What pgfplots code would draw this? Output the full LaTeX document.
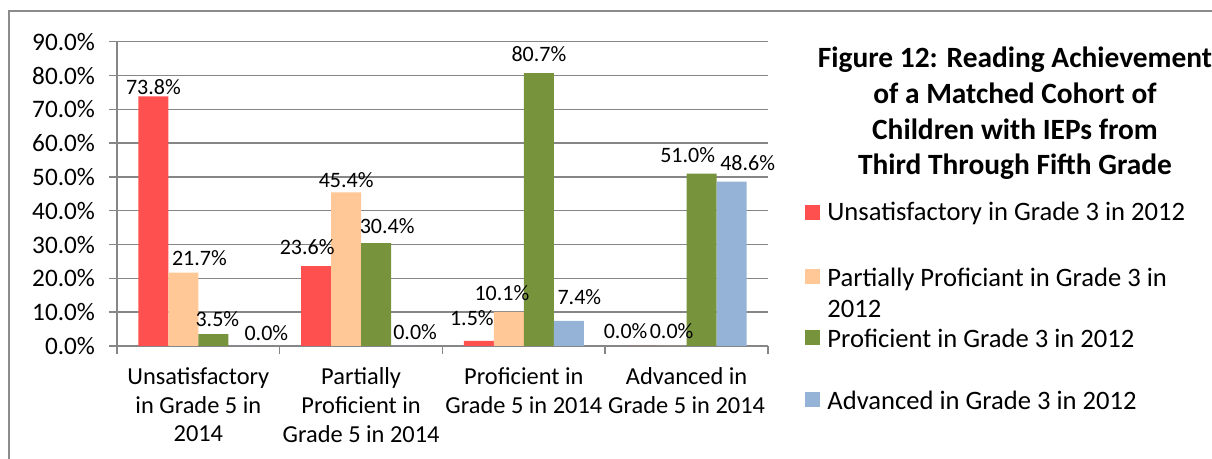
\documentclass[border=0pt]{standalone}
\usepackage{pgfplots}
\usepackage{pgfplotstable}
\pgfplotsset{compat=1.18}
\usepackage{fontspec}
\setmainfont{Carlito}
\definecolor{cRed}{HTML}{FF5050}
\definecolor{cOrange}{HTML}{FFC896}
\definecolor{cGreen}{HTML}{77933C}
\definecolor{cBlue}{HTML}{95B3D7}
\definecolor{cGrid}{HTML}{868686}
\definecolor{cFrame}{HTML}{8C8C8C}
\newcommand{\fx}{\fontsize{12.2}{14.25}\selectfont}
\newcommand{\fy}{\fontsize{12.6}{14}\selectfont}
\newcommand{\fd}{\fontsize{11}{13}\selectfont}
\newcommand{\fl}{\fontsize{13.3}{15.5}\selectfont}

\pgfplotstableread{
x y dx dy
0 73.8 0 4.75
1 23.6 -4.5 9.65
2 1.5 -3.5 11.5
3 0.0 -8 7.5
}\tRed
\pgfplotstableread{
x y dx dy
0 21.7 8 7.3
1 45.4 0 6.25
2 10.1 -3.5 9.5
3 0.0 0 7.5
}\tOrange
\pgfplotstableread{
x y dx dy
0 3.5 2 7.5
1 30.4 5.5 8.5
2 80.7 0 9.35
3 51.0 -7 9.3
}\tGreen
\pgfplotstableread{
x y dx dy
0 0.0 11.5 6.65
1 0.0 4.5 7.15
2 7.4 5.25 12
3 48.6 8 9.3
}\tBlue

\begin{document}
\begin{tikzpicture}
\useasboundingbox (0,0) rectangle (606pt,229.5pt);
\draw[cFrame, line width=0.6pt] (4.5pt,-2pt) -- (4.5pt,224pt) -- (612pt,224pt);
\begin{axis}[
  at={(58.5pt,56.5pt)}, anchor=south west,
  scale only axis, width=325.5pt, height=152.15pt,
  xmin=-0.5, xmax=3.5, ymin=0, ymax=90,
  ybar=0pt, bar width=15pt,
  axis x line*=bottom, axis y line*=left,
  axis line style={cGrid, line width=0.75pt},
  ymajorgrids, grid style={cGrid, line width=0.75pt},
  tick align=outside, major tick length=4pt,
  tick style={cGrid, line width=0.75pt},
  xtick={-0.5,0.5,1.5,2.5,3.5}, xticklabels={},
  extra x ticks={0,1,2,3},
  extra x tick labels={Unsatisfactory\\in Grade 5 in\\2014, Partially\\Proficient in\\Grade 5 in 2014, Proficient in\\Grade 5 in 2014, Advanced in\\Grade 5 in 2014},
  extra x tick style={major tick length=0pt},
  xticklabel style={font=\fx, align=center, text=black, yshift=-7.5pt},
  ytick={0,10,20,30,40,50,60,70,80,90},
  yticklabels={0.0\%,10.0\%,20.0\%,30.0\%,40.0\%,50.0\%,60.0\%,70.0\%,80.0\%,90.0\%},
  yticklabel style={font=\fy, text=black, xshift=-3.5pt},
  /pgf/number format/assume math mode=true,
  nodes near coords={\pgfmathprintnumber[fixed,fixed zerofill,precision=1]{\pgfplotspointmeta}\%},
  visualization depends on={\thisrow{dx} \as \lx},
  visualization depends on={\thisrow{dy} \as \ly},
  every node near coord/.append style={font=\fd, text=black, anchor=center, xshift=\lx pt, yshift=\ly pt},
]
\addplot[fill=cRed, draw=none] table[x=x, y=y] {\tRed};
\addplot[fill=cOrange, draw=none] table[x=x, y=y] {\tOrange};
\addplot[fill=cGreen, draw=none] table[x=x, y=y] {\tGreen};
\addplot[fill=cBlue, draw=none] table[x=x, y=y] {\tBlue};
\end{axis}
\node[font=\fontsize{14.7}{17.85}\selectfont\bfseries, align=center] at (507.5pt,172.75pt)
  {Figure 12: Reading Achievement\\of a Matched Cohort of\\Children with IEPs from\\Third Through Fifth Grade};
\fill[cRed] (402.5pt,119.25pt) rectangle (410pt,126.75pt);
\fill[cOrange] (402.5pt,87.25pt) rectangle (410pt,94.75pt);
\fill[cGreen] (402.5pt,56.75pt) rectangle (410pt,64.25pt);
\fill[cBlue] (402.5pt,25.75pt) rectangle (410pt,33.25pt);
\node[font=\fl, anchor=west, inner sep=0pt] at (413.5pt,123pt) {Unsatisfactory in Grade 3 in 2012};
\node[font=\fl, anchor=west, inner sep=0pt, align=left] at (413.5pt,83.25pt) {Partially Proficiant in Grade 3 in\\2012};
\node[font=\fl, anchor=west, inner sep=0pt] at (413.5pt,60.5pt) {Proficient in Grade 3 in 2012};
\node[font=\fl, anchor=west, inner sep=0pt] at (413.5pt,29.5pt) {Advanced in Grade 3 in 2012};
\end{tikzpicture}
\end{document}
